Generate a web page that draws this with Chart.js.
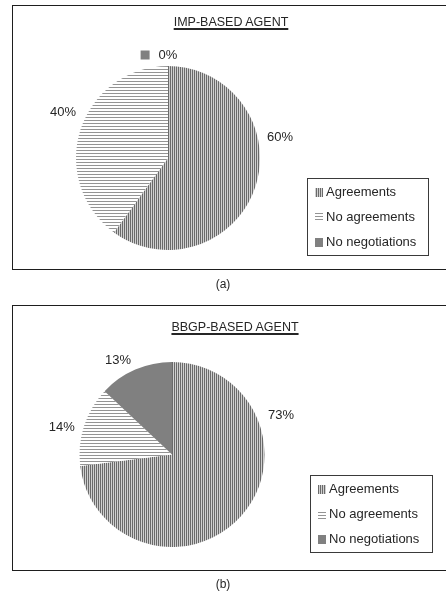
<!DOCTYPE html>
<html>
<head>
<meta charset="utf-8">
<script src="https://cdn.jsdelivr.net/npm/chart.js@4.4.0/dist/chart.umd.min.js"></script>
<style>
  body { margin: 0; width: 446px; height: 597px; position: relative; overflow: hidden; background: #fff;
         font-family: "Liberation Sans", Arial, sans-serif; color: #262626; }
  .panel { position: absolute; left: 12px; width: 450px; border: 1.5px solid #1e1e1e; box-sizing: border-box; }
  .title { position: absolute; font-size: 12.5px; line-height: 14px; transform: translate(-50%, -50%);
           text-decoration: underline; text-decoration-thickness: 1.5px; text-underline-offset: 2px; white-space: nowrap; }
  .caption { position: absolute; font-size: 12px; transform: translate(-50%, -50%); }
  .wrap { position: absolute; left: 0; width: 446px; }
</style>
</head>
<body>
<div class="panel" style="top:5px;height:265px"></div>
<div class="panel" style="top:305px;height:266px"></div>
<div class="wrap" style="top:0;height:290px"><canvas id="impChart"></canvas></div>
<div class="wrap" style="top:290px;height:307px"><canvas id="bbgpChart"></canvas></div>
<div class="title" style="left:231px;top:22px">IMP-BASED AGENT</div>
<div class="title" style="left:235px;top:327px">BBGP-BASED AGENT</div>
<div class="caption" style="left:223px;top:284px">(a)</div>
<div class="caption" style="left:223px;top:584px">(b)</div>
<script>
const categories = ['Agreements', 'No agreements', 'No negotiations'];
const impValues = [60, 40, 0];
const bbgpValues = [73, 14, 13];

// fill patterns like the Excel ones
function makePattern(kind) {
    const c = document.createElement('canvas');
    const g = c.getContext('2d');
    if (kind === 'vertical') {
        c.width = 2; c.height = 1;
        g.fillStyle = '#d0d0d0'; g.fillRect(0, 0, 2, 1);
        g.fillStyle = '#6a6a6a'; g.fillRect(0, 0, 1, 1);
    } else {
        c.width = 1; c.height = 3;
        g.fillStyle = '#ffffff'; g.fillRect(0, 0, 1, 3);
        g.fillStyle = '#949494'; g.fillRect(0, 0, 1, 1);
    }
    return document.createElement('canvas').getContext('2d').createPattern(c, 'repeat');
}
const fills = [makePattern('vertical'), makePattern('horizontal'), '#808080'];

const pieLabels = {
    id: 'pieLabels',
    afterDatasetsDraw(chart, args, opts) {
        const ctx = chart.ctx;
        const meta = chart.getDatasetMeta(0);
        const data = chart.data.datasets[0].data;
        ctx.save();
        ctx.font = '13px "Liberation Sans", Arial, sans-serif';
        ctx.fillStyle = '#262626';
        ctx.textAlign = 'center';
        ctx.textBaseline = 'middle';
        meta.data.forEach((arc, i) => {
            const a = opts.angles[i] * Math.PI / 180;
            const r = arc.outerRadius + opts.dist[i];
            const x = arc.x + r * Math.sin(a);
            const y = arc.y - r * Math.cos(a);
            const txt = data[i] + '%';
            ctx.fillText(txt, x, y);
            if (data[i] === 0) {
                const w = ctx.measureText(txt).width;
                ctx.fillStyle = chart.data.datasets[0].backgroundColor[i];
                ctx.fillRect(x - w / 2 - 18, y - 4.5, 9, 9);
                ctx.fillStyle = '#262626';
            }
        });
        ctx.restore();
    }
};

const boxLegend = {
    id: 'boxLegend',
    afterDraw(chart, args, opts) {
        const ctx = chart.ctx;
        const ds = chart.data.datasets[0];
        ctx.save();
        ctx.strokeStyle = '#3a3a3a';
        ctx.lineWidth = 1;
        ctx.strokeRect(opts.x + 0.5, opts.y + 0.5, opts.w, opts.h);
        ctx.font = '13px "Liberation Sans", Arial, sans-serif';
        ctx.textBaseline = 'middle';
        chart.data.labels.forEach((lab, i) => {
            const cy = opts.y + 14 + i * 25;
            ctx.fillStyle = ds.backgroundColor[i];
            ctx.fillRect(opts.x + 8, cy - 4, 8, 9);
            ctx.fillStyle = '#262626';
            ctx.fillText(lab, opts.x + 19, cy);
        });
        ctx.restore();
    }
};

function drawPie(id, values, padding, labelOpts, legendOpts) {
    const ctx = document.getElementById(id).getContext('2d');
    new Chart(ctx, {
        type: 'pie',
        data: {
            labels: categories,
            datasets: [{
                data: values,
                backgroundColor: fills,
                borderWidth: 0,
                hoverOffset: 0
            }]
        },
        options: {
            responsive: true,
            maintainAspectRatio: false,
            animation: false,
            layout: { padding: padding },
            plugins: {
                legend: { display: false },
                tooltip: { enabled: false },
                pieLabels: labelOpts,
                boxLegend: legendOpts
            }
        },
        plugins: [pieLabels, boxLegend]
    });
}

drawPie('impChart', impValues,
    { left: 76, right: 186, top: 66, bottom: 40 },
    { angles: [79.4, 293.7, 0], dist: [22, 22.6, 11] },
    { x: 307, y: 178, w: 121, h: 77 });

drawPie('bbgpChart', bbgpValues,
    { left: 79.5, right: 181.5, top: 72, bottom: 50 },
    { angles: [70.1, 284, 330.3], dist: [23.4, 21, 16.3] },
    { x: 310, y: 185, w: 122, h: 77 });
</script>
</body>
</html>
